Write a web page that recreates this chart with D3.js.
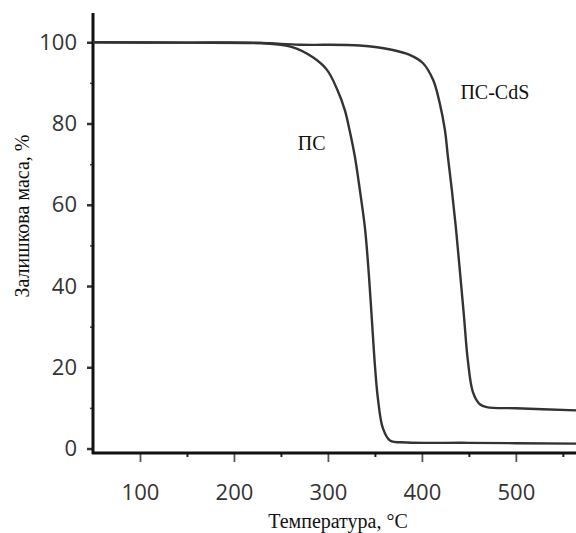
<!DOCTYPE html>
<html>
<head>
<meta charset="utf-8">
<script src="https://cdn.jsdelivr.net/npm/d3@7"></script>
<style>
html,body{margin:0;padding:0;background:#fff;}
svg{display:block;}
</style>
</head>
<body>
<svg id="chart" width="576" height="533"></svg>
<script>
// ---- data ----
const tempPS   = [50, 150, 228, 262, 284, 299, 310, 318, 323, 328.7, 334, 339.4, 343.6, 346.8, 350, 353.2, 358.5, 366, 384, 450, 564];
const massPS   = [100, 99.9, 99.8, 98.8, 96.3, 93.2, 88.3, 83.3, 78.4, 71.8, 63.6, 54.3, 42.7, 31.6, 20.5, 12.3, 5.0, 2.0, 1.5, 1.4, 1.2];
const tempPSCdS = [50, 150, 228, 270, 334, 369, 387, 401, 412, 419, 424.5, 427.7, 431.9, 436.2, 440.4, 444.7, 448.9, 454.3, 461.7, 469, 500, 564];
const massPSCdS = [100, 99.9, 99.8, 99.4, 99.2, 98.1, 96.9, 94.9, 90.7, 85.0, 78.4, 71.8, 63.6, 54.3, 43.8, 32.8, 21.7, 13.9, 10.9, 10.2, 9.9, 9.4];
const xMajorTicks = [100, 200, 300, 400, 500];
const xMinorTicks = [150, 250, 350, 450, 550];
const yMajorTicks = [0, 20, 40, 60, 80, 100];
const yMinorTicks = [10, 30, 50, 70, 90];
const seriesLabels = ["ПС", "ПС-CdS"];
const xTitle = "Температура, °C";
const yTitle = "Залишкова маса, %";

// ---- layout ----
const svg = d3.select("#chart");
const x = d3.scaleLinear().domain([50, 564]).range([93, 576]);
const y = d3.scaleLinear().domain([-1.1, 107.2]).range([453, 13]);

const tickFont = "'Open Sans', 'Noto Sans', sans-serif";
const serif = "'Liberation Serif', 'DejaVu Serif', serif";

// minor ticks
svg.append("g").attr("transform", "translate(0,453)")
  .call(d3.axisBottom(x).tickValues(xMinorTicks).tickSize(4).tickFormat(""))
  .call(g => g.select(".domain").remove())
  .call(g => g.selectAll("line").attr("stroke", "#222").attr("stroke-width", 2));
svg.append("g").attr("transform", "translate(93,0)")
  .call(d3.axisLeft(y).tickValues(yMinorTicks).tickSize(3).tickFormat(""))
  .call(g => g.select(".domain").remove())
  .call(g => g.selectAll("line").attr("stroke", "#444").attr("stroke-width", 1.5));

// major ticks
const gx = svg.append("g").attr("transform", "translate(0,453)")
  .call(d3.axisBottom(x).tickValues(xMajorTicks).tickSize(9).tickPadding(22).tickFormat(d3.format("d")))
  .call(g => g.select(".domain").remove());
gx.selectAll("line").attr("stroke", "#555").attr("stroke-width", 1.8);
gx.selectAll("text").attr("font-family", tickFont).attr("font-size", 22).attr("fill", "#333");

const gy = svg.append("g").attr("transform", "translate(93,0)")
  .call(d3.axisLeft(y).tickValues(yMajorTicks).tickSize(6).tickPadding(10).tickFormat(d3.format("d")))
  .call(g => g.select(".domain").remove());
gy.selectAll("line").attr("stroke", "#333").attr("stroke-width", 2.5);
gy.selectAll("text").attr("font-family", tickFont).attr("font-size", 22).attr("fill", "#333");

// axis lines
svg.append("line").attr("x1", 93).attr("x2", 93).attr("y1", y(107.2)).attr("y2", y(-1.1) + 1)
  .attr("stroke", "#111").attr("stroke-width", 3);
svg.append("line").attr("x1", 92).attr("x2", 576).attr("y1", y(-1.1)).attr("y2", y(-1.1))
  .attr("stroke", "#111").attr("stroke-width", 3);

// curves
const line = d3.line().x(d => x(d[0])).y(d => y(d[1])).curve(d3.curveCatmullRom.alpha(0.5));
const dPS = tempPS.map((t, i) => [t, massPS[i]]);
const dCdS = tempPSCdS.map((t, i) => [t, massPSCdS[i]]);
svg.append("path").datum(dCdS).attr("d", line).attr("fill", "none")
  .attr("stroke", "#333").attr("stroke-width", 2.4);
svg.append("path").datum(dPS).attr("d", line).attr("fill", "none")
  .attr("stroke", "#333").attr("stroke-width", 2.4);

// series labels
svg.append("text").attr("x", x(268)).attr("y", y(73.5)).text(seriesLabels[0])
  .attr("font-family", serif).attr("font-size", 20).attr("fill", "#111");
svg.append("text").attr("x", x(441)).attr("y", y(86)).text(seriesLabels[1])
  .attr("font-family", serif).attr("font-size", 20).attr("fill", "#111");

// axis titles
svg.append("text").attr("x", 338).attr("y", 528).attr("text-anchor", "middle").text(xTitle)
  .attr("font-family", serif).attr("font-size", 20).attr("fill", "#111");
svg.append("text").attr("transform", "translate(29,216) rotate(-90)").attr("text-anchor", "middle").text(yTitle)
  .attr("font-family", serif).attr("font-size", 20).attr("fill", "#111");
</script>
</body>
</html>
